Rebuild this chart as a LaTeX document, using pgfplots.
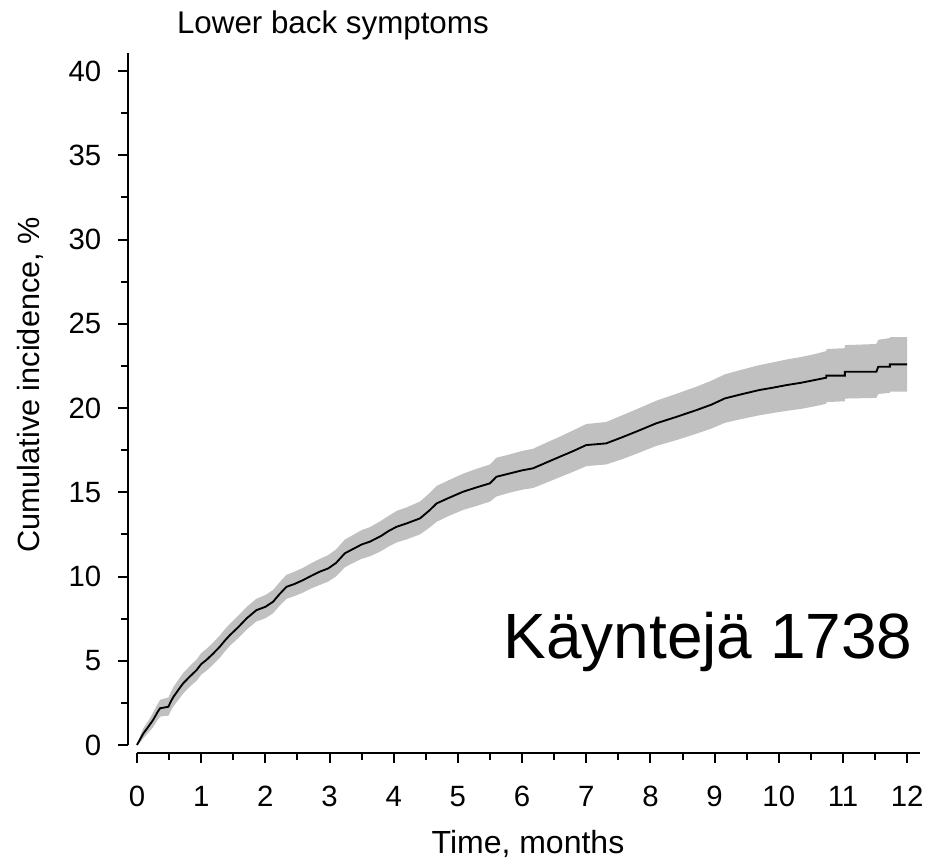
\documentclass[border=0pt]{standalone}
\usepackage{fontspec}
\setmainfont{Liberation Sans}
\usepackage{pgfplots}
\pgfplotsset{compat=1.18}
\usepgfplotslibrary{fillbetween}
\usepackage{pgfplotstable}
\definecolor{bandgray}{RGB}{192,192,192}

% cumulative incidence (%) with 95% band
\pgfplotstableread{
x     y      lo     hi
0.00  0.00   0.00   0.00
0.05  0.35   0.15   0.55
0.10  0.69   0.40   1.00
0.18  1.10   0.75   1.45
0.25  1.48   1.05   1.92
0.32  1.95   1.48   2.42
0.36  2.18   1.68   2.68
0.42  2.22   1.72   2.75
0.49  2.27   1.74   2.82
0.53  2.60   2.05   3.15
0.57  2.87   2.30   3.45
0.65  3.30   2.70   3.90
0.72  3.66   3.05   4.27
0.82  4.05   3.45   4.67
0.93  4.45   3.82   5.08
1.00  4.80   4.17   5.45
1.08  5.04   4.40   5.70
1.18  5.40   4.75   6.05
1.29  5.83   5.17   6.50
1.37  6.20   5.55   6.87
1.45  6.53   5.90   7.20
1.58  7.00   6.35   7.68
1.71  7.52   6.85   8.20
1.86  8.00   7.33   8.68
2.00  8.20   7.52   8.90
2.12  8.50   7.82   9.20
2.22  8.95   8.25   9.65
2.33  9.39   8.68   10.10
2.45  9.55   8.83   10.28
2.59  9.79   9.05   10.52
2.72  10.05  9.30   10.80
2.85  10.29  9.50   11.05
2.98  10.48  9.70   11.27
3.10  10.80  10.00  11.60
3.24  11.38  10.55  12.20
3.35  11.60  10.77  12.43
3.50  11.90  11.05  12.75
3.63  12.07  11.20  12.93
3.80  12.40  11.50  13.30
3.92  12.70  11.78  13.60
4.05  12.96  12.03  13.90
4.20  13.15  12.20  14.10
4.41  13.45  12.50  14.45
4.55  13.90  12.88  14.92
4.67  14.34  13.25  15.38
4.85  14.65  13.58  15.70
5.08  15.03  13.95  16.10
5.30  15.30  14.20  16.40
5.50  15.53  14.45  16.65
5.60  15.92  14.75  17.05
5.81  16.12  14.98  17.25
6.00  16.30  15.15  17.45
6.17  16.42  15.25  17.58
6.40  16.80  15.60  17.98
6.59  17.11  15.90  18.30
6.80  17.45  16.22  18.68
7.00  17.80  16.55  19.05
7.31  17.90  16.65  19.17
7.55  18.25  16.95  19.55
7.78  18.60  17.28  19.92
8.09  19.09  17.75  20.43
8.41  19.48  18.10  20.85
8.72  19.88  18.48  21.27
8.95  20.20  18.78  21.62
9.16  20.57  19.12  22.00
9.40  20.80  19.33  22.25
9.70  21.07  19.57  22.55
9.90  21.20  19.70  22.70
10.12 21.36  19.83  22.88
10.35 21.50  19.95  23.03
10.56 21.66  20.10  23.20
10.74 21.80  20.25  23.38
10.74 21.92  20.35  23.50
11.03 21.92  20.40  23.55
11.03 22.15  20.56  23.73
11.52 22.15  20.60  23.80
11.55 22.45  20.83  24.05
11.73 22.45  20.90  24.15
11.73 22.59  20.97  24.20
12.00 22.59  20.97  24.20
}\cuminc

\begin{document}
\begin{tikzpicture}
\begin{axis}[
  name=ax,
  scale only axis,
  width=594pt, height=525pt,
  xmin=-0.14, xmax=12.2, ymin=-0.475, ymax=41.07,
  axis x line*=bottom, axis y line*=left,
  axis line style={draw=none},
  xtick={0,...,12}, ytick={0,5,...,40},
  minor x tick num=1, minor y tick num=1,
  tick align=outside,
  major tick length=7.5pt, minor tick length=5pt,
  tick style={black, line width=1.5pt},
  tick label style={font=\fontsize{22}{26}\selectfont},
  xticklabel style={yshift=-14pt},
  yticklabel style={xshift=-9pt},
  /pgf/number format/assume math mode=true,
  clip=false,
  xlabel={Time, months},
  ylabel={Cumulative incidence, \%},
  xlabel style={font=\fontsize{24}{28}\selectfont, at={(rel axis cs:0.505,-0.13)}, anchor=center},
  ylabel style={font=\fontsize{23}{27}\selectfont, at={(rel axis cs:-0.1237,0.5257)}, anchor=center},
]
\addplot[name path=hi, draw=none, forget plot] table[x=x, y=hi] {\cuminc};
\addplot[name path=lo, draw=none, forget plot] table[x=x, y=lo] {\cuminc};
\addplot[bandgray, draw=none] fill between[of=hi and lo];
\addplot[black, line width=1.4pt] table[x=x, y=y] {\cuminc};

% detached axis lines
\draw[line width=1.8pt] (axis cs:0,-0.475) -- (axis cs:12.2,-0.475);
\draw[line width=1.8pt] (axis cs:-0.14,0) -- (axis cs:-0.14,41.07);

\node[anchor=base west, inner sep=0pt, font=\fontsize{23.5}{28}\selectfont]
  at (axis cs:0.62,42.2) {Lower back symptoms};
\node[anchor=base east, inner sep=0pt, font=\fontsize{48}{56}\selectfont]
  at (axis cs:12.09,5.16) {Käyntejä 1738};
\end{axis}
\pgfresetboundingbox
\path[use as bounding box] ([shift={(-96pt,-83.25pt)}]ax.south west)
  rectangle ([shift={(598.5pt,564.75pt)}]ax.south west);
\end{tikzpicture}
\end{document}
